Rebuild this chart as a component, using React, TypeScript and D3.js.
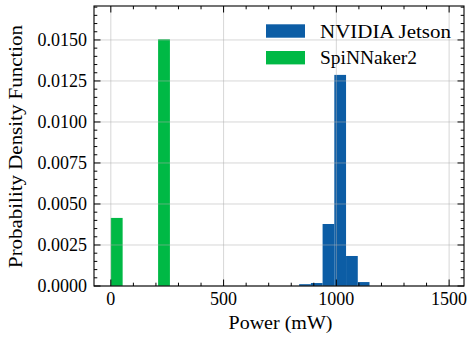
import React from "react";
import * as d3 from "d3";

// Histogram data (density)
const jetsonEdges = [835, 887, 939, 991, 1043, 1095, 1147];
const jetsonDensity = [0.00011, 0.00018, 0.00378, 0.01287, 0.00183, 0.00024];
const spinEdges = [0, 52.4, 104.8, 157.2, 209.6, 262];
const spinDensity = [0.00415, 0, 0, 0, 0.01504];

const xMajor = [0, 500, 1000, 1500];
const xMajorLabels = ["0", "500", "1000", "1500"];
const yMajor = [0, 0.0025, 0.005, 0.0075, 0.01, 0.0125, 0.015];
const yMajorLabels = ["0.0000", "0.0025", "0.0050", "0.0075", "0.0100", "0.0125", "0.0150"];
const xMinor = d3.range(0, 1501, 100).filter((v) => v % 500 !== 0);
const yMinor = d3.range(0, 0.0171, 0.0005).filter((v) => Math.abs(v / 0.0025 - Math.round(v / 0.0025)) > 1e-6);

const seriesNames = ["NVIDIA Jetson", "SpiNNaker2"];
const colors = ["#0C5DA5", "#00B945"];

export default function App() {
  const W = 469, H = 339;
  const L = 94, R = 464, T = 6, B = 286;
  const x = d3.scaleLinear().domain([-74.6, 1566]).range([L, R]);
  const y = d3.scaleLinear().domain([0, 0.01707]).range([B, T]);
  const font = "'Liberation Serif', 'DejaVu Serif', serif";
  const fs = 18;
  const majLen = 6.5, minLen = 3.3;

  const bars = (edges: number[], dens: number[], color: string, key: string) =>
    dens.map((d, i) =>
      d > 0 ? (
        <rect
          key={key + i}
          x={x(edges[i])}
          width={x(edges[i + 1]) - x(edges[i])}
          y={y(d)}
          height={B - y(d)}
          fill={color}
        />
      ) : null
    );

  return (
    <svg width={W} height={H} style={{ position: "absolute", left: 0, top: 0, background: "#fff" }} fontFamily={font}>
      <rect x={0} y={0} width={W} height={H} fill="#fff" />
      {bars(jetsonEdges, jetsonDensity, colors[0], "j")}
      {bars(spinEdges, spinDensity, colors[1], "s")}
      {/* grid */}
      <g stroke="#b0b0b0" strokeOpacity={0.5} strokeWidth={1}>
        {xMajor.map((v) => (
          <line key={"gx" + v} x1={x(v)} x2={x(v)} y1={T} y2={B} />
        ))}
        {yMajor.map((v) => (
          <line key={"gy" + v} x1={L} x2={R} y1={y(v)} y2={y(v)} />
        ))}
      </g>
      {/* ticks */}
      <g stroke="#000" strokeWidth={1}>
        {xMajor.map((v) => (
          <g key={"tx" + v}>
            <line x1={x(v)} x2={x(v)} y1={B} y2={B - majLen} />
            <line x1={x(v)} x2={x(v)} y1={T} y2={T + majLen} />
          </g>
        ))}
        {xMinor.map((v) => (
          <g key={"mx" + v}>
            <line x1={x(v)} x2={x(v)} y1={B} y2={B - minLen} />
            <line x1={x(v)} x2={x(v)} y1={T} y2={T + minLen} />
          </g>
        ))}
        {yMajor.map((v) => (
          <g key={"ty" + v}>
            <line x1={L} x2={L + majLen} y1={y(v)} y2={y(v)} />
            <line x1={R} x2={R - majLen} y1={y(v)} y2={y(v)} />
          </g>
        ))}
        {yMinor.map((v) => (
          <g key={"my" + v}>
            <line x1={L} x2={L + minLen} y1={y(v)} y2={y(v)} />
            <line x1={R} x2={R - minLen} y1={y(v)} y2={y(v)} />
          </g>
        ))}
      </g>
      <rect x={L} y={T} width={R - L} height={B - T} fill="none" stroke="#000" strokeWidth={1.1} />
      {/* tick labels */}
      {xMajor.map((v, i) => (
        <text key={"lx" + v} x={x(v)} y={304.5} fontSize={fs} textAnchor="middle" fill="#000">
          {xMajorLabels[i]}
        </text>
      ))}
      {yMajor.map((v, i) => (
        <text key={"ly" + v} x={87} y={y(v) + 6} fontSize={fs} textAnchor="end" fill="#000">
          {yMajorLabels[i]}
        </text>
      ))}
      {/* axis labels */}
      <text x={280.5} y={328.5} fontSize={fs} textAnchor="middle" textLength={104} lengthAdjust="spacingAndGlyphs" fill="#000">
        Power (mW)
      </text>
      <text
        transform={`translate(22,${146.5}) rotate(-90)`}
        fontSize={fs}
        textAnchor="middle"
        textLength={243}
        lengthAdjust="spacingAndGlyphs"
        fill="#000"
      >
        Probability Density Function
      </text>
      {/* legend */}
      {seriesNames.map((n, i) => (
        <g key={"lg" + n}>
          <rect x={266} y={24.3 + i * 26.7} width={39} height={13.4} fill={colors[i]} />
          <text
            x={320}
            y={37.7 + i * 26.7}
            fontSize={fs}
            fill="#000"
            textLength={i === 0 ? 131 : 97}
            lengthAdjust="spacingAndGlyphs"
          >
            {n}
          </text>
        </g>
      ))}
    </svg>
  );
}
